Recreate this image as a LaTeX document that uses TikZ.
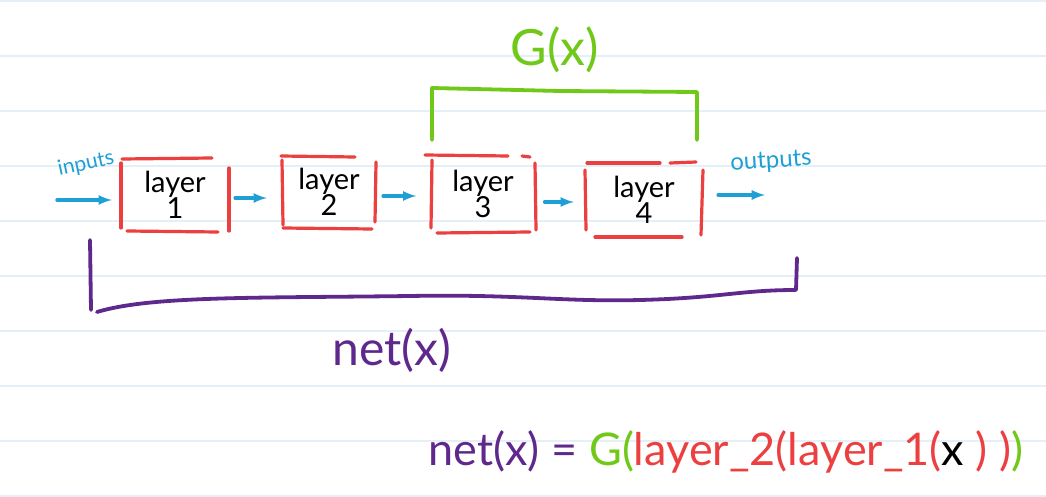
\documentclass[tikz,border=0pt]{standalone}
\usepackage{fontspec}
\setmainfont{Lato}
\usetikzlibrary{calc,positioning}
\definecolor{paperline}{RGB}{228,239,247}
\definecolor{inkblue}{RGB}{30,160,215}
\definecolor{inkred}{RGB}{236,64,64}
\definecolor{inkgreen}{RGB}{112,200,24}
\definecolor{inkpurple}{RGB}{95,40,140}
\tikzset{>=latex}
\tikzset{
  box/.style={inkred,line width=3.2pt,line cap=round},
  flow/.style={->,inkblue,line width=3.5pt,line cap=round},
  brace/.style={line width=3.8pt,line cap=round,line join=round},
  lay/.style={align=center,inner sep=0pt,font=\fontsize{29}{26}\selectfont},
}
\begin{document}
\begin{tikzpicture}[x=1pt,y=-1pt]
  % Paper
  \useasboundingbox (0,0) rectangle (1046,497);
  \fill[white] (0,0) rectangle (1046,497);
  \foreach \y in {1,56,...,496}
    \draw[paperline,line width=1.5pt] (0,\y) -- (1046,\y);

  % Layers
  \node[lay,minimum width=108pt,minimum height=72pt] (l1) at (175,195) {layer\\1};
  \node[lay,minimum width=94pt,minimum height=72pt] (l2) at (329,192) {layer\\2};
  \node[lay,minimum width=103pt,minimum height=78pt] (l3) at (483,194) {layer\\3};
  \node[lay,minimum width=118pt,minimum height=74pt] (l4) at (644,200) {layer\\4};

  % Boxes
  \draw[box] (122,159) -- (212,158);
  \draw[box] (121,163) -- (121,228);
  \draw[box] (229,168) -- (229,231);
  \draw[box] (127,231) -- (218,232);
  \draw[box] (281,156) -- (355,157);
  \draw[box] (282,160) -- (283,225);
  \draw[box] (376,162) -- (375,222);
  \draw[box] (283,228) -- (372,229);
  \draw[box] (425,155) -- (508,156);
  \draw[box] (522,156) -- (530,157);
  \draw[box] (432,160) -- (431,228);
  \draw[box] (535,163) -- (536,230);
  \draw[box] (437,233) -- (530,232);
  \draw[box] (587,163) -- (660,163);
  \draw[box] (670,163) -- (696,162);
  \draw[box] (585,170) -- (586,230);
  \draw[box] (703,170) -- (701,235);
  \draw[box] (595,237) -- (682,237);

  % Flow
  \coordinate (in) at (57,200);
  \coordinate (out) at (765,195);
  \draw[flow] (in) -- ($(l1.west)+(-9,5)$);
  \draw[flow] ($(l1.east)+(6,3)$) -- ($(l2.west)+(-15,6)$);
  \draw[flow] ($(l2.east)+(7,4)$) -- ($(l3.west)+(-15,2)$);
  \draw[flow] ($(l3.east)+(10,8)$) -- ($(l4.west)+(-11,2)$);
  \draw[flow] ($(l4.east)+(15,-5)$) -- (out);
  \node[inkblue,font=\fontsize{21}{21}\selectfont,rotate=12] (inputs) at (86,164) {inputs};
  \node[inkblue,font=\fontsize{24}{24}\selectfont,rotate=4] (outputs) at (771,162) {outputs};

  % G bracket
  \draw[brace,inkgreen] (432,140) -- (432,88) -- (560,91) -- (697,92) -- (697,140);
  \node[inkgreen,font=\fontsize{50}{50}\selectfont] (gx) at (555,50) {G(x)};

  % net bracket
  \draw[brace,inkpurple] (90,240) -- (91,310);
  \draw[brace,inkpurple] (97,312) .. controls (150,296) and (250,298) .. (410,296)
    .. controls (520,294) and (560,302) .. (640,300)
    .. controls (720,298) and (740,290) .. (796,290) -- (797,258);
  \node[inkpurple,font=\fontsize{48}{48}\selectfont] (netx) at (392,350) {net(x)};

  % Equation
  \node[font=\fontsize{45}{45}\selectfont] (eq) at (726,452)
    {\color{inkpurple}net(x) = \color{inkgreen}G(\color{inkred}layer\_2(layer\_1(\color{black}x \color{inkred}) )\color{inkgreen})};
\end{tikzpicture}
\end{document}
